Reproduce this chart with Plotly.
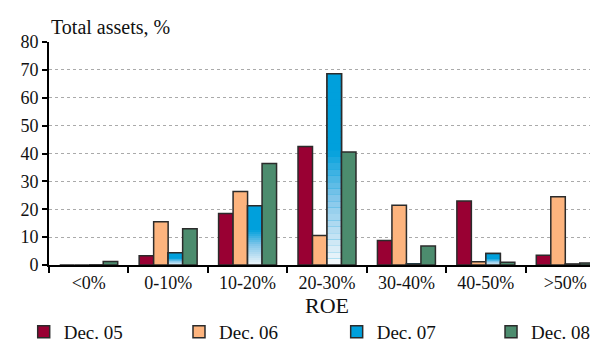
import plotly.graph_objects as go

categories = ["<0%", "0-10%", "10-20%", "20-30%", "30-40%", "40-50%", ">50%"]
dec05 = [0, 3.3, 18.5, 42.5, 8.8, 23.0, 3.5]
dec06 = [0, 15.5, 26.4, 10.6, 21.4, 1.2, 24.5]
dec07 = [0, 4.4, 21.3, 68.6, 0.4, 4.1, 0.3]
dec08 = [1.3, 13.0, 36.4, 40.5, 6.8, 1.0, 0.7]

FONT = "Times New Roman, Liberation Serif, Tinos, DejaVu Serif, serif"
EDGE = "#2b2b2b"
BLUE = (0, 160, 220)


def grad_color(f):
    # f = 0 at bar bottom, 1 at top: white -> light blue -> blue
    stops = [(0.0, (246, 249, 251)), (0.35, (130, 198, 234)), (0.6, BLUE), (1.0, BLUE)]
    for (f0, c0), (f1, c1) in zip(stops, stops[1:]):
        if f <= f1:
            t = (f - f0) / (f1 - f0)
            c = [round(a + (b - a) * t) for a, b in zip(c0, c1)]
            return f"rgb({c[0]},{c[1]},{c[2]})"
    return f"rgb{BLUE}"


fig = go.Figure()

fig.add_trace(go.Bar(x=categories, y=dec05, name="Dec. 05", offsetgroup="a", legend="legend",
                     marker=dict(color="#990033", line=dict(color=EDGE, width=1.5))))
fig.add_trace(go.Bar(x=categories, y=dec06, name="Dec. 06", offsetgroup="b", legend="legend2",
                     marker=dict(color="#FDB47E", line=dict(color=EDGE, width=1.5))))
fig.add_trace(go.Bar(x=categories, y=dec07, name="Dec. 07", offsetgroup="c", legend="legend3",
                     marker=dict(color="rgb(0,160,220)", line=dict(color=EDGE, width=1.5))))

# gradient fill for Dec. 07, drawn as thin slices of each bar
n = 30
for i in range(n):
    fig.add_trace(go.Bar(
        x=categories, y=[v / n for v in dec07], base=[v * i / n for v in dec07],
        offsetgroup="c", showlegend=False, hoverinfo="skip",
        marker=dict(color=grad_color((i + 0.5) / n), line=dict(width=0))))

fig.add_trace(go.Bar(x=categories, y=dec07, offsetgroup="c", showlegend=False,
                     marker=dict(color="rgba(0,0,0,0)", line=dict(color=EDGE, width=1.5))))
fig.add_trace(go.Bar(x=categories, y=dec08, name="Dec. 08", offsetgroup="d", legend="legend4",
                     marker=dict(color="#4C8C6E", line=dict(color=EDGE, width=1.5))))

leg = dict(orientation="h", xanchor="left", y=-0.30, yanchor="middle",
           font=dict(size=19), itemclick=False, itemdoubleclick=False)

fig.update_layout(
    width=598, height=345,
    margin=dict(l=41, r=1, t=34, b=88, autoexpand=False),
    barmode="group", bargap=0.27, bargroupgap=0,
    paper_bgcolor="white", plot_bgcolor="white",
    font=dict(family=FONT, size=18, color="#111"),
    showlegend=True,
    legend=dict(leg, x=-0.0455),
    legend2=dict(leg, x=0.2338),
    legend3=dict(leg, x=0.5174),
    legend4=dict(leg, x=0.7950),
    annotations=[dict(text="Total assets, %", x=0, xref="paper", xanchor="left",
                      y=1, yref="paper", yanchor="bottom", yshift=2, showarrow=False,
                      font=dict(size=20))],
)

fig.update_xaxes(
    showline=True, linecolor="black", linewidth=2,
    ticks="outside", tickson="boundaries", ticklen=6, tickwidth=2, tickcolor="black",
    showgrid=False, title=dict(text="ROE", standoff=4),
)
fig.update_yaxes(
    range=[0, 80], dtick=10, showline=True, linecolor="black", linewidth=2,
    ticks="outside", ticklen=5, tickwidth=2, tickcolor="black",
    showgrid=True, gridcolor="#aaa", griddash="dot", gridwidth=1.2,
    zeroline=False,
)

fig.write_html("out.html")
